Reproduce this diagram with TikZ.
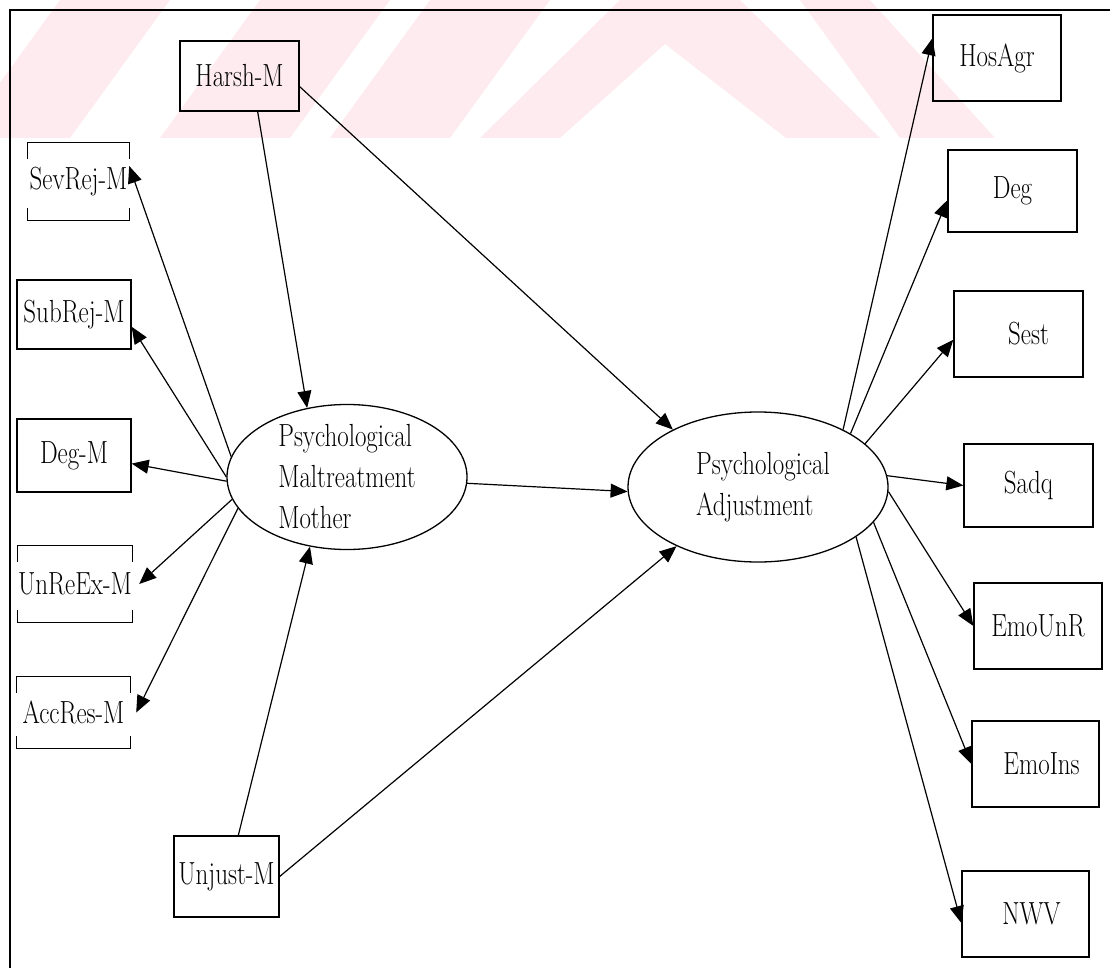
\documentclass[tikz,border=0pt]{standalone}
\usepackage{fontspec}
\usepackage{graphicx}
\usetikzlibrary{arrows.meta,shapes.geometric}

\definecolor{wmpink}{RGB}{253,235,239}
\newcommand{\nw}[1]{\scalebox{0.78}[1]{#1}}

\begin{document}
\begin{tikzpicture}[x=1pt,y=-1pt,
  every node/.style={font=\fontsize{32}{41}\selectfont},
  box/.style={draw,line width=1.3pt,inner sep=0pt},
  openbox/.style={inner sep=0pt},
  latent/.style={draw,ellipse,line width=1.3pt,inner sep=0pt},
  lattext/.style={align=left,inner sep=0pt},
  arr/.style={line width=1.2pt,-{Triangle[length=17pt,width=14pt]}}]
  \useasboundingbox (0,0) rectangle (1110,968);
  % watermark band
  \begin{scope}
    \clip (0,0) rectangle (1110,138);
    \foreach \x/\w in {-40/110,160/130,330/120}
      \fill[wmpink] (\x,138) -- ++(\w,0) -- ++(100,-138) -- ++(-\w,0) -- cycle;
    \fill[wmpink] (480,138) -- (560,138) -- (665,44) -- (786,138) -- (880,138)
      -- (740,0) -- (620,0) -- cycle;
    \fill[wmpink] (900,138) -- (995,138) -- (870,0) -- (800,0) -- cycle;
  \end{scope}
  % frame
  \draw[line width=1.5pt] (10,968) -- (10,10) -- (1110,10);

  % exogenous
  \node[box,minimum width=119pt,minimum height=70pt] (harsh) at (239.5,76) {\nw{Harsh-M}};
  \node[box,minimum width=105pt,minimum height=81pt] (unjust) at (226.5,876.5) {\nw{Unjust-M}};
  % mother indicators
  \node[openbox,minimum width=101pt,minimum height=77pt] (sevrej) at (78.5,181.5) {\nw{SevRej-M}};
  \node[box,minimum width=114pt,minimum height=69pt] (subrej) at (74,314.5) {\nw{SubRej-M}};
  \node[box,minimum width=114pt,minimum height=73pt] (degm) at (74,455.5) {\nw{Deg-M}};
  \node[openbox,minimum width=114pt,minimum height=76pt] (unreex) at (75,584) {\nw{UnReEx-M}};
  \node[openbox,minimum width=113pt,minimum height=71pt] (accres) at (73.5,712.5) {\nw{AccRes-M}};
  \foreach \n in {sevrej,unreex,accres}{
    \draw[line width=1.3pt] ([yshift=-16pt]\n.north west) |- (\n.north east) -- ++(0,16);
    \draw[line width=1.3pt] ([yshift=12pt]\n.south west) |- (\n.south east) -- ++(0,-12);
  }
  % adjustment indicators
  \node[box,minimum width=128pt,minimum height=86pt] (hosagr) at (997,58) {\nw{HosAgr}};
  \node[box,minimum width=129pt,minimum height=82pt] (deg) at (1012.5,191) {\nw{Deg}};
  \node[box,minimum width=129pt,minimum height=86pt] (sest) at (1018.5,334) {\hspace{20pt}\nw{Sest}};
  \node[box,minimum width=129pt,minimum height=83pt] (sadq) at (1028.5,485.5) {\nw{Sadq}};
  \node[box,minimum width=128pt,minimum height=86pt] (emounr) at (1038,626) {\nw{EmoUnR}};
  \node[box,minimum width=127pt,minimum height=86pt] (emoins) at (1035.5,764) {\hspace{12pt}\nw{EmoIns}};
  \node[box,minimum width=127pt,minimum height=86pt] (nwv) at (1025.5,914) {\hspace{12pt}\nw{NWV}};

  % latent variables
  \node[latent,minimum width=240pt,minimum height=145pt,
    label={[lattext]center:\nw{Psychological}\\\nw{Maltreatment}\\\nw{Mother}}] (pmm) at (347,477) {};
  \node[latent,minimum width=260pt,minimum height=150pt,
    label={[lattext,xshift=5pt]center:\nw{Psychological}\\\nw{Adjustment}}] (pa) at (758,487) {};

  % paths
  \draw[arr] (harsh.297) -- (pmm.120);
  \draw[arr] (harsh.350) -- (pa.146);
  \draw[arr] (unjust.74) -- (pmm.242);
  \draw[arr] (unjust.east) -- (pa.216);
  \draw[arr] (pmm.357) -- (pa.182);
  \draw[arr] (pmm.170) -- (sevrej.17);
  \draw[arr] (pmm.180) -- (subrej.348);
  \draw[arr] (pmm.182) -- (degm.352);
  \draw[arr] (pmm.191) -- ([xshift=7pt]unreex.east);
  \draw[arr] (pmm.196) -- ([xshift=6pt]accres.east);
  \draw[arr] (pa.34) -- (hosagr.163);
  \draw[arr] (pa.30) -- (deg.188);
  \draw[arr] (pa.22) -- (sest.185);
  \draw[arr] (pa.5) -- (sadq.west);
  \draw[arr] (pa.358) -- (emounr.west);
  \draw[arr] (pa.343) -- (emoins.west);
  \draw[arr] (pa.333) -- (nwv.188);
\end{tikzpicture}
\end{document}
